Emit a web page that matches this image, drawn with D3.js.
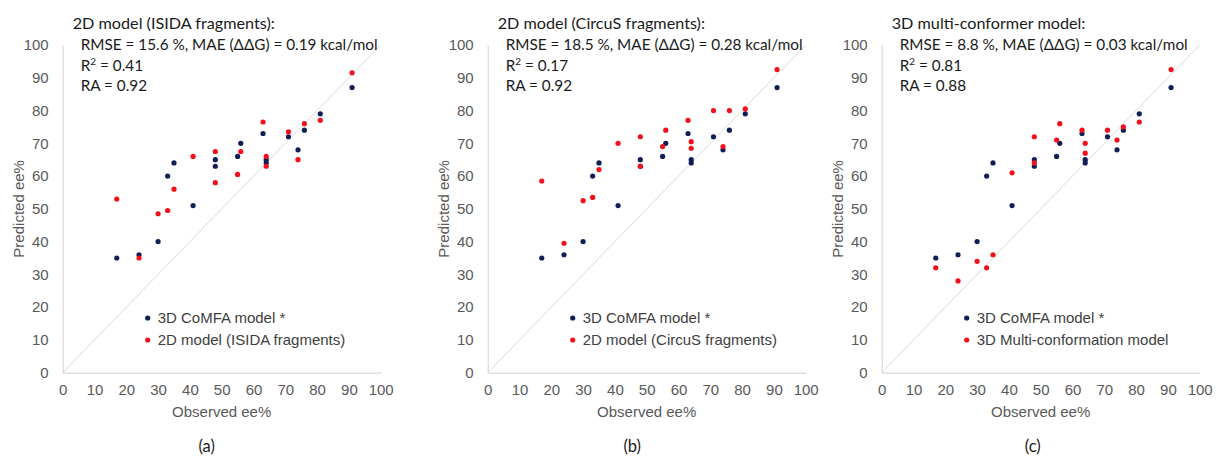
<!DOCTYPE html>
<html>
<head>
<meta charset="utf-8">
<script src="https://cdn.jsdelivr.net/npm/d3@7"></script>
<style>
  body { margin: 0; background: #fff; }
  svg { display: block; }
  .tick-text { font-family: Arial, "Liberation Sans", sans-serif; font-size: 15px; fill: #595959; }
  .axis-title { font-family: Arial, "Liberation Sans", sans-serif; font-size: 15px; fill: #595959; }
  .legend-text { font-family: Arial, "Liberation Sans", sans-serif; font-size: 15px; fill: #404040; }
  .note { font-family: Lato, "Open Sans", sans-serif; font-size: 15.3px; fill: #1a1a1a; }
</style>
</head>
<body>
<svg id="chart" width="1216" height="459"></svg>
<script>
(function () {
  // ==================
  // Data
  // ==================
  const ticks = [0, 10, 20, 30, 40, 50, 60, 70, 80, 90, 100];

  // observed ee% (shared by every series)
  const observed = [17, 24, 30, 33, 35, 41, 48, 48, 55, 56, 63, 64, 64, 71, 74, 76, 81, 91];

  const comfaPredicted = [35, 36, 40, 60, 64, 51, 65, 63, 66, 70, 73, 65, 64, 72, 68, 74, 79, 87];
  const isidaPredicted = [53, 35, 48.5, 49.5, 56, 66, 67.5, 58, 60.5, 67.5, 76.5, 66, 63, 73.5, 65, 76, 77, 91.5];
  const circusPredicted = [58.5, 39.5, 52.5, 53.5, 62, 70, 72, 63, 69, 74, 77, 70.5, 68.5, 80, 69, 80, 80.5, 92.5];
  const multiConfPredicted = [32, 28, 34, 32, 36, 61, 72, 64, 71, 76, 74, 70, 67, 74, 71, 75, 76.5, 92.5];

  const panelTitles = ['2D model (ISIDA fragments):', '2D model (CircuS fragments):', '3D multi-conformer model:'];
  const panelRmse = ['RMSE = 15.6 %, MAE (\u0394\u0394G) = 0.19 kcal/mol', 'RMSE = 18.5 %, MAE (\u0394\u0394G) = 0.28 kcal/mol', 'RMSE = 8.8 %, MAE (\u0394\u0394G) = 0.03 kcal/mol'];
  const panelR2 = ['0.41', '0.17', '0.81'];
  const panelRA = ['0.92', '0.92', '0.88'];
  const secondSeries = [isidaPredicted, circusPredicted, multiConfPredicted];
  const secondNames = ['2D model (ISIDA fragments)', '2D model (CircuS fragments)', '3D Multi-conformation model'];
  const baseName = '3D CoMFA model *';
  const panelLetters = ['(a)', '(b)', '(c)'];

  // ==================
  // Layout
  // ==================
  const PANEL_LEFT = [62.7, 487.7, 881.7];
  const LETTER_X = [144, 144.5, 151];
  const PLOT_WIDTH = 318;
  const PLOT_TOP = 45;
  const PLOT_BOTTOM = 372.7;
  const BLUE = '#0f1f55';
  const RED = '#f2111b';
  const AXIS_GREY = '#d9d9d9';

  const svg = d3.select('#chart');

  panelTitles.forEach((title, i) => {
    const g = svg.append('g').attr('transform', `translate(${PANEL_LEFT[i]},0)`);

    const xScale = d3.scaleLinear().domain([0, 100]).range([0, PLOT_WIDTH]);
    const yScale = d3.scaleLinear().domain([0, 100]).range([PLOT_BOTTOM, PLOT_TOP]);

    // y = x reference line
    g.append('line')
      .attr('x1', xScale(0)).attr('y1', yScale(0))
      .attr('x2', xScale(100)).attr('y2', yScale(100))
      .attr('stroke', '#dadada').attr('stroke-width', 1);

    const xAxis = d3.axisBottom(xScale).tickValues(ticks).tickSize(0).tickPadding(12);
    const yAxis = d3.axisLeft(yScale).tickValues(ticks).tickSize(0).tickPadding(14);

    const xg = g.append('g').attr('transform', `translate(0,${PLOT_BOTTOM})`).call(xAxis);
    const yg = g.append('g').call(yAxis);
    [xg, yg].forEach(ax => {
      ax.attr('font-family', null).attr('font-size', null);
      ax.select('.domain').attr('stroke', AXIS_GREY).attr('stroke-width', 1.2);
      ax.selectAll('.tick text').attr('class', 'tick-text');
    });
    xg.selectAll('.tick text').attr('dy', '0.71em');

    // points
    const pairs = observed.map((o, k) => ({ o, base: comfaPredicted[k], other: secondSeries[i][k] }));
    g.append('g').selectAll('circle').data(pairs).join('circle')
      .attr('cx', d => xScale(d.o)).attr('cy', d => yScale(d.base))
      .attr('r', 2.6).attr('fill', BLUE);
    g.append('g').selectAll('circle').data(pairs).join('circle')
      .attr('cx', d => xScale(d.o)).attr('cy', d => yScale(d.other))
      .attr('r', 2.6).attr('fill', RED);

    // axis titles
    g.append('text').attr('class', 'axis-title')
      .attr('x', PLOT_WIDTH / 2).attr('y', 417)
      .attr('text-anchor', 'middle').text('Observed ee%');
    g.append('text').attr('class', 'axis-title')
      .attr('transform', `translate(-39,${(PLOT_TOP + PLOT_BOTTOM) / 2}) rotate(-90)`)
      .attr('text-anchor', 'middle').text('Predicted ee%');

    // statistics note
    g.append('text').attr('class', 'note').attr('x', 10).attr('y', 29)
      .style('font-size', '16.2px').text(title);
    g.append('text').attr('class', 'note').attr('x', 18).attr('y', 50).text(panelRmse[i]);
    const r2 = g.append('text').attr('class', 'note').attr('x', 18).attr('y', 70.5);
    r2.append('tspan').text('R');
    r2.append('tspan').attr('font-size', '10px').attr('dy', -6).text('2');
    r2.append('tspan').attr('dy', 6).text(' = ' + panelR2[i]);
    g.append('text').attr('class', 'note').attr('x', 18).attr('y', 91).text('RA = ' + panelRA[i]);

    // legend
    const legend = g.append('g').attr('transform', 'translate(85,318)');
    [[baseName, BLUE], [secondNames[i], RED]].forEach(([name, color], k) => {
      legend.append('circle').attr('cx', 0).attr('cy', k * 22).attr('r', 2.6).attr('fill', color);
      legend.append('text').attr('class', 'legend-text')
        .attr('x', 10).attr('y', k * 22).attr('dy', '0.35em').text(name);
    });

    // panel letter
    g.append('text').attr('class', 'note').attr('x', LETTER_X[i]).attr('y', 452)
      .attr('text-anchor', 'middle').style('font-size', '16.5px').text(panelLetters[i]);
  });
})();
</script>
</body>
</html>
